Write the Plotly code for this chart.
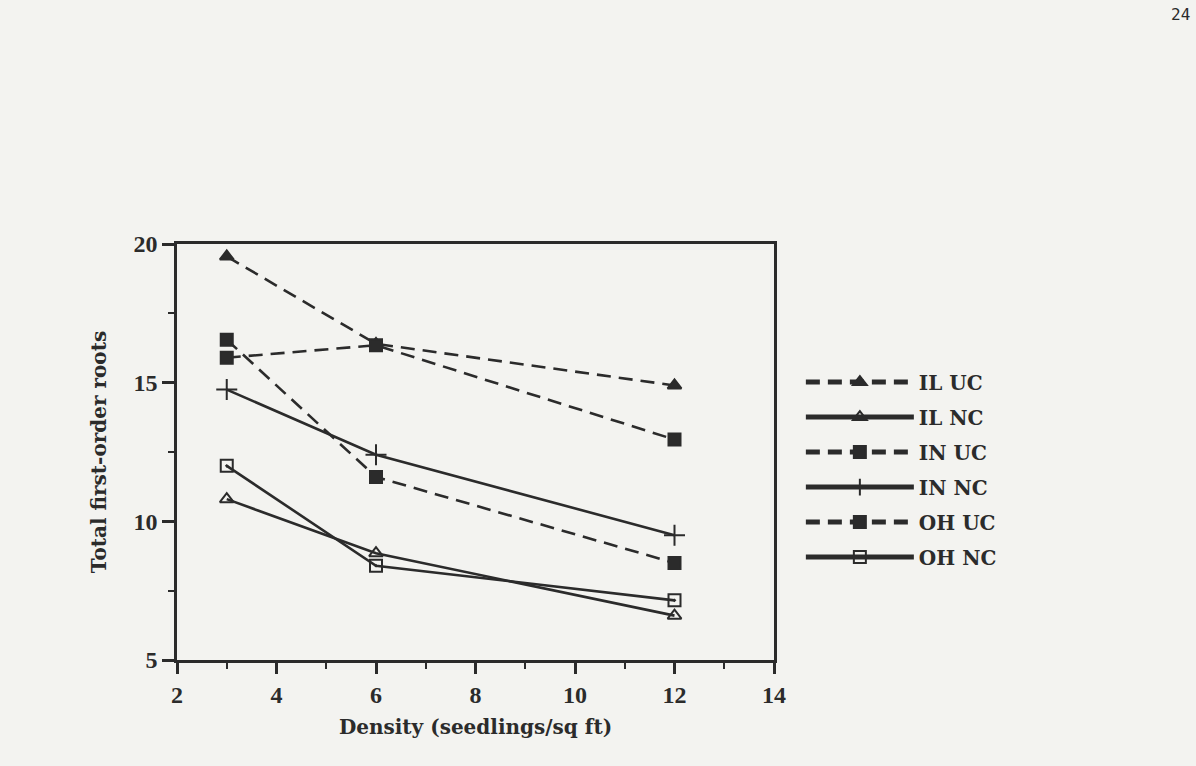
import plotly.graph_objects as go

density = [3, 6, 12]
il_uc = [19.55, 16.4, 14.9]
il_nc = [10.8, 8.85, 6.6]
in_uc = [15.9, 16.35, 12.95]
in_nc = [14.75, 12.4, 9.5]
oh_uc = [16.55, 11.6, 8.5]
oh_nc = [12.0, 8.4, 7.15]

series_names = ["IL UC", "IL NC", "IN UC", "IN NC", "OH UC", "OH NC"]
series_vals = [il_uc, il_nc, in_uc, in_nc, oh_uc, oh_nc]
dashes = ["14px,8px", "solid", "14px,8px", "solid", "14px,8px", "solid"]
symbols = ["triangle-up", "triangle-up-open", "square", "cross-thin", "square", "square-open-dot"]

INK = "#2b2b2b"
BG = "#f3f3f0"

fig = go.Figure()
for name, vals, dash, sym in zip(series_names, series_vals, dashes, symbols):
    fig.add_trace(go.Scatter(
        x=density, y=vals, name=name, mode="lines+markers", legendgroup=name,
        line=dict(color=INK, width=2.6, dash=dash),
        marker=dict(symbol=sym, size=12 if "cross" not in sym else 15, color=INK,
                    line=dict(color=INK, width=2)),
    ))

serif = "DejaVu Serif"
tickserif = "Liberation Serif"
fig.update_layout(
    width=1196, height=766,
    margin=dict(l=177, r=422, t=244, b=106),
    paper_bgcolor=BG, plot_bgcolor=BG,
    font=dict(family=serif, color=INK, size=16),
    showlegend=True,
    legend=dict(x=1.045, y=0.715, xanchor="left", yanchor="top",
                bgcolor="rgba(0,0,0,0)", itemwidth=108,
                font=dict(family=serif, size=20, color=INK, weight="bold"),
                tracegroupgap=6, itemsizing="constant"),
    xaxis=dict(range=[2, 14], dtick=2, tick0=2, showgrid=False, zeroline=False,
               showline=True, linecolor=INK, linewidth=2.6, mirror=True,
               ticks="outside", ticklen=11, tickwidth=2.6, tickcolor=INK,
               minor=dict(dtick=1, ticks="outside", ticklen=6, tickwidth=2.2, tickcolor=INK),
               tickfont=dict(family=tickserif, size=24, color=INK, weight="bold"),
               title=dict(text="<b>Density (seedlings/sq ft)</b>", standoff=14,
                          font=dict(family=serif, size=20, color=INK))),
    yaxis=dict(range=[5, 20], dtick=5, tick0=5, showgrid=False, zeroline=False,
               showline=True, linecolor=INK, linewidth=2.6, mirror=True,
               ticks="outside", ticklen=12, tickwidth=2.6, tickcolor=INK,
               minor=dict(dtick=2.5, ticks="outside", ticklen=6, tickwidth=2.2, tickcolor=INK),
               tickfont=dict(family=tickserif, size=24, color=INK, weight="bold"),
               title=dict(text="<b>Total first-order roots</b>", standoff=22,
                          font=dict(family=serif, size=20, color=INK))),
)

fig.add_annotation(text="24", xref="paper", yref="paper", x=1.70, y=1.58,
                   xanchor="right", yanchor="top", showarrow=False,
                   font=dict(family="DejaVu Sans Mono", size=16, color=INK))

fig.write_html("out.html",
               config={"displayModeBar": False},
               post_script="document.body.style.margin='0';document.body.style.background='#f3f3f0';document.body.style.overflow='hidden';")
